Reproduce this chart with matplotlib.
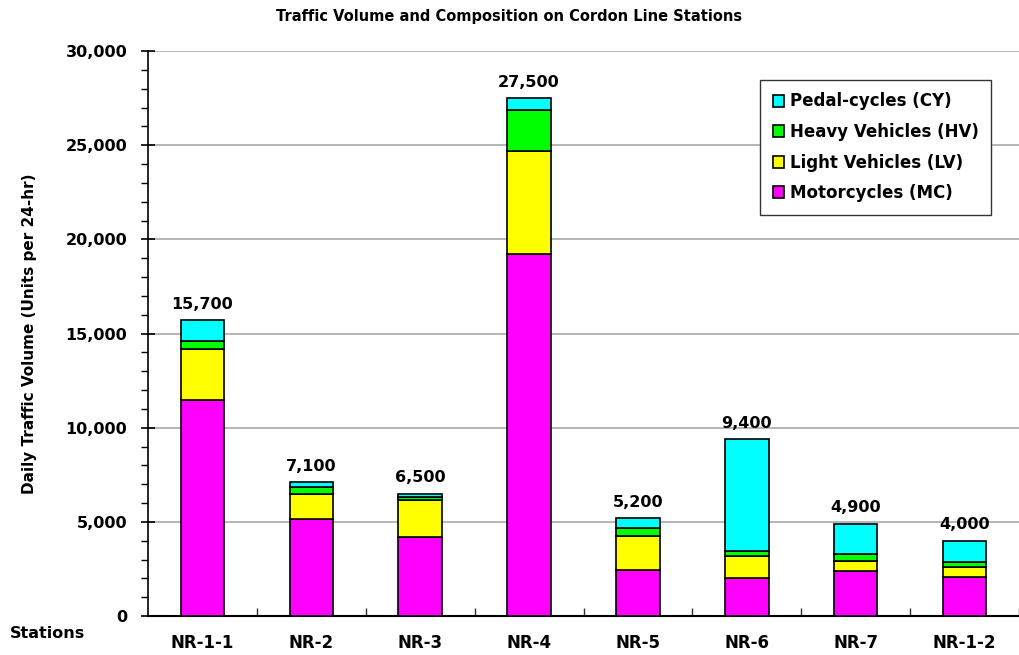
import matplotlib.pyplot as plt
from matplotlib.ticker import MultipleLocator, FuncFormatter

stations = ["NR-1-1", "NR-2", "NR-3", "NR-4", "NR-5", "NR-6", "NR-7", "NR-1-2"]
mc = [11450, 5130, 4200, 19240, 2440, 2000, 2410, 2090]
lv = [2730, 1330, 1940, 5450, 1790, 1170, 490, 530]
hv = [440, 370, 200, 2200, 430, 300, 390, 250]
cy = [1080, 270, 160, 610, 540, 5930, 1610, 1130]
totals = [15700, 7100, 6500, 27500, 5200, 9400, 4900, 4000]

fig = plt.figure(figsize=(10.19, 6.55), dpi=100)
ax = fig.add_axes([148 / 1019, 1 - 616 / 655, (1019 - 148) / 1019, 565 / 655])

x = list(range(len(stations)))
w = 0.4
edge = dict(edgecolor="black", linewidth=1.2, zorder=3)
b1 = ax.bar(x, mc, w, color="#ff00ff", label="Motorcycles (MC)", **edge)
bottom = mc[:]
b2 = ax.bar(x, lv, w, bottom=bottom, color="#ffff00", label="Light Vehicles (LV)", **edge)
bottom = [a + b for a, b in zip(bottom, lv)]
b3 = ax.bar(x, hv, w, bottom=bottom, color="#00ff00", label="Heavy Vehicles (HV)", **edge)
bottom = [a + b for a, b in zip(bottom, hv)]
b4 = ax.bar(x, cy, w, bottom=bottom, color="#00ffff", label="Pedal-cycles (CY)", **edge)

# totals above bars
for xi, t in zip(x, totals):
    ax.annotate("{:,}".format(t), (xi, t), xytext=(0, 6), textcoords="offset points",
                ha="center", va="bottom", fontsize=11.5, fontweight="bold")

ax.set_xlim(-0.5, -0.5 + 871 / 110)
ax.set_ylim(0, 30000)
ax.yaxis.set_major_locator(MultipleLocator(5000))
ax.yaxis.set_minor_locator(MultipleLocator(1000))
ax.yaxis.set_major_formatter(FuncFormatter(lambda v, p: "{:,.0f}".format(v)))
ax.grid(axis="y", color="#b0b0b0", linewidth=1.3, zorder=0)
ax.set_axisbelow(True)

ax.set_xticks(x)
ax.set_xticklabels(stations, fontsize=12, fontweight="bold")
ax.set_xticks([i + 0.5 for i in x], minor=True)
ax.tick_params(axis="x", which="major", length=0, pad=13)
ax.tick_params(axis="x", which="minor", direction="in", length=6, width=1, color="#333333")
ax.tick_params(axis="y", which="major", direction="inout", length=10, width=1.2, labelsize=11.5, pad=10)
ax.tick_params(axis="y", which="minor", direction="out", length=5, width=1)
for lab in ax.get_yticklabels():
    lab.set_fontweight("bold")

for s in ["top", "right"]:
    ax.spines[s].set_visible(False)
ax.spines["left"].set_linewidth(1.2)
ax.spines["bottom"].set_linewidth(1.5)

ax.set_ylabel("Daily Traffic Volume (Units per 24-hr)", fontsize=11, fontweight="bold")
ax.yaxis.set_label_coords((37 - 148) / 871, 0.5)
fig.text(10 / 1019, 1 - 633 / 655, "Stations", fontsize=11.5, fontweight="bold", va="center")
fig.text(0.5, 1 - 17 / 655, "Traffic Volume and Composition on Cordon Line Stations",
         fontsize=10.5, fontweight="bold", ha="center", va="center")

leg = ax.legend(handles=[b4, b3, b2, b1], loc="upper left",
                bbox_to_anchor=((760 - 148) / 871, (616 - 80) / 565),
                prop=dict(size=12, weight="bold"), fancybox=False, edgecolor="#333333",
                handlelength=0.7, handleheight=0.7, handletextpad=0.35, labelspacing=0.75,
                borderpad=0.75, borderaxespad=0, framealpha=1)
leg.get_frame().set_linewidth(1.0)

fig.savefig("out.png", dpi=100)
